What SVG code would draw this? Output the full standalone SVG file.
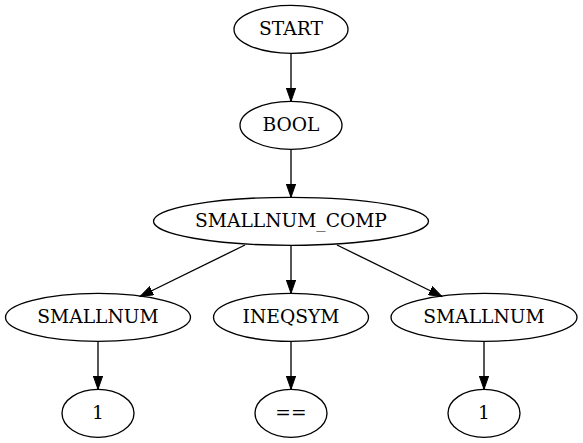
<svg xmlns="http://www.w3.org/2000/svg" width="583" height="443" viewBox="0 0 583 443">
<style>
.node ellipse{fill:none;stroke:#000;stroke-width:1.33}
.node text{font-family:"DejaVu Serif",serif;font-size:18.67px;text-anchor:middle;fill:#000}
.edge{stroke:#000;stroke-width:1.33;fill:none}
</style>
<defs>
<marker id="arr" markerUnits="userSpaceOnUse" markerWidth="14" markerHeight="10" viewBox="0 0 14 10" refX="13.33" refY="5" orient="auto">
<path d="M0,0.33 L13.33,5 L0,9.67 Z" fill="#000" stroke="#000" stroke-width="1"/>
</marker>
</defs>
<rect width="583" height="443" fill="#fff"/>
<g id="connectors">
<path class="edge" d="M291,53.3 L291,101.3" marker-end="url(#arr)"/>
<path class="edge" d="M291,149.3 L291,197.3" marker-end="url(#arr)"/>
<path class="edge" d="M245,245 L140,296.5" marker-end="url(#arr)"/>
<path class="edge" d="M291,245.3 L291,293.3" marker-end="url(#arr)"/>
<path class="edge" d="M337,245 L442,296.5" marker-end="url(#arr)"/>
<path class="edge" d="M98,341.3 L98,389.3" marker-end="url(#arr)"/>
<path class="edge" d="M291,341.3 L291,389.3" marker-end="url(#arr)"/>
<path class="edge" d="M484,341.3 L484,389.3" marker-end="url(#arr)"/>
</g>
<g id="start" class="node"><ellipse cx="291" cy="29.3" rx="57" ry="24"/><text x="291" y="35">START</text></g>
<g id="bool" class="node"><ellipse cx="291" cy="125.3" rx="51" ry="24"/><text x="291" y="131">BOOL</text></g>
<g id="smallnum_comp" class="node"><ellipse cx="291" cy="221.3" rx="137.5" ry="24"/><text x="291" y="227">SMALLNUM_COMP</text></g>
<g id="smallnum1" class="node"><ellipse cx="98" cy="317.3" rx="92.5" ry="24"/><text x="98" y="323">SMALLNUM</text></g>
<g id="ineqsym" class="node"><ellipse cx="291" cy="317.3" rx="77.5" ry="24"/><text x="291" y="323">INEQSYM</text></g>
<g id="smallnum2" class="node"><ellipse cx="484" cy="317.3" rx="93" ry="24"/><text x="484" y="323">SMALLNUM</text></g>
<g id="one1" class="node"><ellipse cx="98" cy="413.3" rx="36" ry="24"/><text x="98" y="419">1</text></g>
<g id="eq" class="node"><ellipse cx="291" cy="413.3" rx="36" ry="24"/><text x="291" y="419">==</text></g>
<g id="one2" class="node"><ellipse cx="484" cy="413.3" rx="36" ry="24"/><text x="484" y="419">1</text></g>
</svg>
